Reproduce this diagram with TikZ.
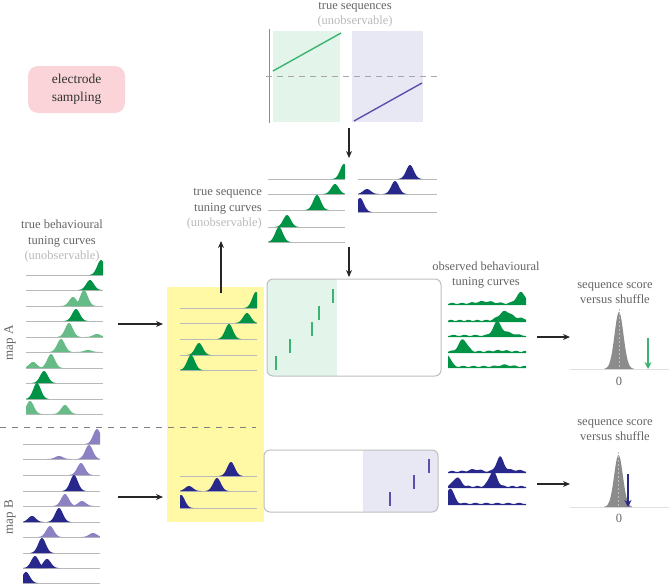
\documentclass[tikz,border=0pt]{standalone}
\usepackage{fontspec}
\setmainfont{Liberation Serif}
\usetikzlibrary{arrows.meta}
\definecolor{dgreen}{RGB}{0,146,69}
\definecolor{lgreen}{RGB}{102,187,135}
\definecolor{dblue}{RGB}{40,40,140}
\definecolor{lblue}{RGB}{140,130,195}
\definecolor{seqgreen}{RGB}{60,179,113}
\definecolor{seqpurple}{RGB}{90,80,170}
\definecolor{panelgreen}{RGB}{227,245,234}
\definecolor{panelpurple}{RGB}{232,232,245}
\definecolor{pinkbox}{RGB}{250,212,216}
\definecolor{yellowbox}{RGB}{255,249,166}
\definecolor{txtgray}{RGB}{100,100,100}
\definecolor{unobs}{RGB}{185,185,185}
\definecolor{tlcol}{RGB}{185,185,185}
\definecolor{panelborder}{RGB}{190,190,190}
\newcommand\tcbump[6]{% color, lo, hi, y, mu, h
  \pgfmathsetmacro\blo{max(#2,#5-12)}%
  \pgfmathsetmacro\bhi{min(#3,#5+12)}%
  \fill[#1] (\blo,#4) -- plot[domain=\blo:\bhi,samples=30,smooth] (\x,{#4-g(\x,#5,29,#6)}) -- (\bhi,#4) -- cycle;}
\newcommand\obscurve[3]{% color, y, expression
  \fill[#1] (448,#2) -- plot[domain=448:526,samples=90,smooth] (\x,{#2-(#3)}) -- (526,#2) -- cycle;}
\begin{document}
\begin{tikzpicture}[x=1pt,y=-1pt,
  declare function={g(\gx,\gm,\gs,\gh)=\gh*exp(max(-15,-((\gx-\gm)^2)/\gs));},
  lbl/.style={font=\fontsize{12.5}{15.5}\selectfont, text=txtgray, align=center, inner sep=0pt},
  tl/.style={draw=tlcol, line width=0.7pt},
  arr/.style={-{Stealth[length=7pt,width=6pt]}, line width=1.1pt, draw=black!85},
  panel/.style={draw=panelborder, line width=1pt, rounded corners=6pt}]
\useasboundingbox (0,0) rectangle (669,584);

% ---------- true sequences (top)
\fill[panelgreen] (273,31) rectangle (340,122);
\fill[panelpurple] (352,31) rectangle (423,122);
\draw[draw=black!45, line width=1pt] (269,29) -- (269,123);
\draw[draw=black!35, line width=1pt, dash pattern=on 6pt off 5pt] (266,76) -- (440,76);
\draw[seqgreen, line width=1.4pt] (273,71) -- (341,33);
\draw[seqpurple, line width=1.4pt] (354,121) -- (422,83);
\node[lbl] (tseq) at (355,15) {true sequences\\{\color{unobs}(unobservable)}};

% ---------- electrode sampling
\node[fill=pinkbox, rounded corners=10pt, minimum width=97pt, minimum height=47pt, align=center,
      inner sep=0pt, font=\fontsize{13.5}{18}\selectfont, text=black!80] (elec) at (76.5,89.5) {electrode\\sampling};

% ---------- true behavioural tuning curves
\node[lbl] (tbtc) at (62,241) {true behavioural\\tuning curves\\{\color{unobs}(unobservable)}};
\node[lbl, rotate=90, font=\fontsize{13}{15}\selectfont] (mapA) at (10,343) {map A};
\node[lbl, rotate=90, font=\fontsize{13}{15}\selectfont] (mapB) at (10,517) {map B};

\foreach \yy in {275,290,306,321,337,352,368,383,399,414} \draw[tl] (26,\yy) -- (103,\yy);
\tcbump{dgreen}{26}{103}{275}{101}{15}
\tcbump{dgreen}{26}{103}{290}{90}{10}
\tcbump{lgreen}{26}{103}{306}{73}{9}
\tcbump{lgreen}{26}{103}{306}{84}{16}
\tcbump{dgreen}{26}{103}{321}{76}{12}
\tcbump{lgreen}{26}{103}{337}{69}{14}
\tcbump{lgreen}{26}{103}{337}{97}{3}
\tcbump{lgreen}{26}{103}{352}{61}{13}
\tcbump{lgreen}{26}{103}{352}{88}{2}
\tcbump{lgreen}{26}{103}{368}{51}{14}
\tcbump{lgreen}{26}{103}{368}{33}{6}
\tcbump{dgreen}{26}{103}{383}{44}{12}
\tcbump{dgreen}{26}{103}{399}{37}{16}
\tcbump{lgreen}{26}{103}{414}{30}{13}
\tcbump{lgreen}{26}{103}{414}{65}{9}

\foreach \yy in {444,459,475,491,506,522,537,553,568,583} \draw[tl] (23,\yy) -- (100,\yy);
\tcbump{lblue}{23}{100}{444}{97}{15}
\tcbump{lblue}{23}{100}{459}{89}{14}
\tcbump{lblue}{23}{100}{459}{59}{3}
\tcbump{lblue}{23}{100}{475}{81}{12}
\tcbump{dblue}{23}{100}{491}{74}{16}
\tcbump{lblue}{23}{100}{506}{65}{12}
\tcbump{lblue}{23}{100}{506}{82}{5}
\tcbump{dblue}{23}{100}{522}{59}{14}
\tcbump{dblue}{23}{100}{522}{32}{6}
\tcbump{lblue}{23}{100}{537}{50}{11}
\tcbump{lblue}{23}{100}{537}{93}{4}
\tcbump{dblue}{23}{100}{553}{42}{15}
\tcbump{dblue}{23}{100}{568}{35}{12}
\tcbump{dblue}{23}{100}{568}{47}{9}
\tcbump{dblue}{23}{100}{583}{26}{11}

% ---------- yellow electrode sampled box
\fill[yellowbox] (167,287) rectangle (264,522);
\draw[draw=black!50, line width=1pt, dash pattern=on 6pt off 6pt] (0,427) -- (256,427);
\foreach \yy in {308,323,339,355,370} \draw[tl] (180,\yy) -- (257,\yy);
\tcbump{dgreen}{180}{257}{308}{256}{16}
\tcbump{dgreen}{180}{257}{323}{247}{10}
\tcbump{dgreen}{180}{257}{339}{229}{15}
\tcbump{dgreen}{180}{257}{355}{199}{12}
\tcbump{dgreen}{180}{257}{370}{191}{15}
\foreach \yy in {476,491,508} \draw[tl] (180,\yy) -- (257,\yy);
\tcbump{dblue}{180}{257}{476}{231}{14}
\tcbump{dblue}{180}{257}{491}{217}{13}
\tcbump{dblue}{180}{257}{491}{189}{5}
\tcbump{dblue}{180}{257}{508}{181}{13}

% ---------- true sequence tuning curves
\node[lbl, align=right, anchor=east] (tstc) at (262,209) {true sequence\\tuning curves\\{\color{unobs}(unobservable)}};
\foreach \yy in {179,194,210,227,242} \draw[tl] (268,\yy) -- (345,\yy);
\tcbump{dgreen}{268}{345}{179}{344}{15}
\tcbump{dgreen}{268}{345}{194}{335}{10}
\tcbump{dgreen}{268}{345}{210}{317}{15}
\tcbump{dgreen}{268}{345}{227}{287}{12}
\tcbump{dgreen}{268}{345}{242}{279}{15}
\foreach \yy in {179,194,212} \draw[tl] (358,\yy) -- (437,\yy);
\tcbump{dblue}{358}{437}{179}{410}{14}
\tcbump{dblue}{358}{437}{194}{395}{13}
\tcbump{dblue}{358}{437}{194}{367}{5}
\tcbump{dblue}{358}{437}{212}{360}{14}

% ---------- middle panels (spike sequences)
\begin{scope}
  \clip[rounded corners=6pt] (267,279) rectangle (441,376);
  \fill[panelgreen] (267,279) rectangle (337,376);
\end{scope}
\draw[panel] (267,279) rectangle (441,376);
\foreach \tx/\ty in {276/356,290/339,312/322,319/306,333/289}
  \draw[seqgreen, line width=1.2pt] (\tx,\ty) -- (\tx,\ty+14);
\begin{scope}
  \clip[rounded corners=6pt] (264,450) rectangle (438,512);
  \fill[panelpurple] (363,450) rectangle (438,512);
\end{scope}
\draw[panel] (264,450) rectangle (438,512);
\foreach \tx/\ty in {390/492,414/475,429/459}
  \draw[seqpurple, line width=1.2pt] (\tx,\ty) -- (\tx,\ty+14);

% ---------- observed behavioural tuning curves
\node[lbl] (obtc) at (486,275) {observed behavioural\\tuning curves};
\obscurve{dgreen}{305}{1.6+0.6*sin(37*(\x-440))+g(\x,485,150,2)+g(\x,521,40,11)}
\obscurve{dgreen}{322}{1.6+0.6*sin(41*(\x-440))+g(\x,505,70,9)+g(\x,520,100,2)}
\obscurve{dgreen}{337}{1.6+0.6*sin(33*(\x-440))+g(\x,497,30,13)+g(\x,507,80,3)}
\obscurve{dgreen}{353}{1.6+0.6*sin(39*(\x-440))+g(\x,463,35,12)+g(\x,500,100,1)}
\obscurve{dgreen}{368}{1.6+0.6*sin(35*(\x-440))+g(\x,447,25,12)+g(\x,505,60,1.5)}
\obscurve{dblue}{473}{1.6+0.6*sin(37*(\x-440))+g(\x,475,60,2)+g(\x,500,25,14)+g(\x,512,150,1.5)}
\obscurve{dblue}{488}{1.6+0.6*sin(41*(\x-440))+g(\x,457,30,9)+g(\x,493,30,15)}
\obscurve{dblue}{505}{1.6+0.6*sin(33*(\x-440))+g(\x,450,30,15)}

% ---------- sequence score vs shuffle
\node[lbl] (ssA) at (615,293) {sequence score\\versus shuffle};
\draw[draw=black!12, line width=0.8pt] (570,369) -- (669,369);
\fill[black!45] (604,369) -- plot[domain=604:634,samples=40,smooth] (\x,{369-g(\x,619,40,57)}) -- (634,369) -- cycle;
\draw[draw=black!25, line width=0.8pt, dash pattern=on 2pt off 2pt] (619,309) -- (619,369);
\node[lbl] (zeroA) at (619,381) {0};
\coordinate (gaT) at (648,338);
\coordinate (gaB) at (648,369);
\draw[-{Stealth[length=7pt,width=7pt]}, line width=1.2pt, seqgreen] (gaT) -- (gaB);

\node[lbl] (ssB) at (615,430) {sequence score\\versus shuffle};
\draw[draw=black!12, line width=0.8pt] (570,507) -- (669,507);
\fill[black!45] (604,507) -- plot[domain=604:632,samples=40,smooth] (\x,{507-g(\x,618.5,38,52)}) -- (632,507) -- cycle;
\draw[draw=black!25, line width=0.8pt, dash pattern=on 2pt off 2pt] (618.5,452) -- (618.5,507);
\node[lbl] (zeroB) at (619,518) {0};
\coordinate (baT) at (628,474);
\coordinate (baB) at (628,507);
\draw[-{Stealth[length=7pt,width=7pt]}, line width=1.2pt, dblue] (baT) -- (baB);

% ---------- black arrows
\coordinate (a1s) at (349,128); \coordinate (a1e) at (349,158);
\coordinate (a2s) at (349,247); \coordinate (a2e) at (349,277);
\coordinate (a3s) at (221,293); \coordinate (a3e) at (221,241);
\coordinate (a4s) at (118,324); \coordinate (a4e) at (163,324);
\coordinate (a5s) at (118,497); \coordinate (a5e) at (163,497);
\coordinate (a6s) at (537,337); \coordinate (a6e) at (570,337);
\coordinate (a7s) at (537,484); \coordinate (a7e) at (570,484);
\draw[arr] (a1s) -- (a1e);
\draw[arr] (a2s) -- (a2e);
\draw[arr] (a3s) -- (a3e);
\draw[arr] (a4s) -- (a4e);
\draw[arr] (a5s) -- (a5e);
\draw[arr] (a6s) -- (a6e);
\draw[arr] (a7s) -- (a7e);
\end{tikzpicture}
\end{document}
